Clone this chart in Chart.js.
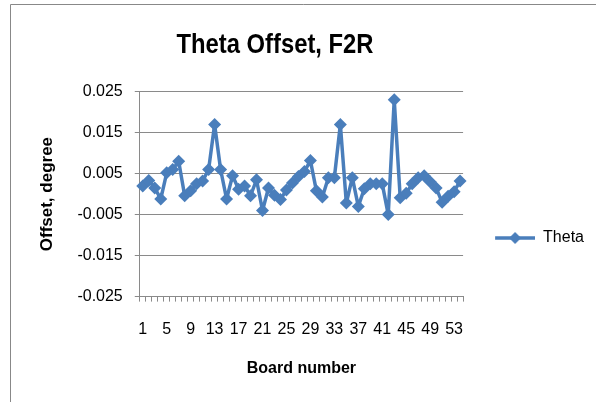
<!DOCTYPE html>
<html><head><meta charset="utf-8">
<script src="https://cdn.jsdelivr.net/npm/chart.js@4.4.1/dist/chart.umd.min.js"></script>
<style>html,body{margin:0;padding:0;background:#fff}#wrap{width:596px;height:402px;position:relative}canvas{display:block}</style>
</head><body><div id="wrap"><canvas id="c" width="596" height="402"></canvas></div>
<script>
const boards = [1,2,3,4,5,6,7,8,9,10,11,12,13,14,15,16,17,18,19,20,21,22,23,24,25,26,27,
  28,29,30,31,32,33,34,35,36,37,38,39,40,41,42,43,44,45,46,47,48,49,50,51,52,53,54];
const theta = [0.002,0.0033,0.0015,-0.0012,0.0052,0.006,0.008,-0.0004,0.0008,0.0025,
  0.0032,0.006,0.017,0.006,-0.0012,0.0045,0.0012,0.002,-0.0004,0.0035,
  -0.004,0.0015,-0.0003,-0.0013,0.001,0.0027,0.0043,0.0055,0.0082,0.0008,
  -0.0007,0.004,0.004,0.017,-0.0022,0.004,-0.003,0.0013,0.0025,0.0025,
  0.0025,-0.005,0.023,-0.0009,0.0002,0.0025,0.004,0.0045,0.003,0.0015,
  -0.002,-0.0005,0.0006,0.0032];
const yMin = -0.025, yMax = 0.025, yStep = 0.01;
const labelEvery = 4;

const blue = '#4a7ebb';
const grey = '#8a8a8a';

// legend icon: line with a diamond
const icon = document.createElement('canvas');
icon.width = 62; icon.height = 14;
(function(){
  const g = icon.getContext('2d');
  g.strokeStyle = blue; g.lineWidth = 3.5;
  g.beginPath(); g.moveTo(22, 7); g.lineTo(62, 7); g.stroke();
  g.fillStyle = blue;
  g.beginPath(); g.moveTo(42, 1); g.lineTo(48, 7); g.lineTo(42, 13); g.lineTo(36, 7); g.closePath(); g.fill();
})();

const frame = {
  id: 'frame',
  afterLayout(chart) {
    // legend sits a little below the middle, title a little left of centre
    const l = chart.legend;
    const d = 238 - (l.top + l.bottom) / 2;
    l.top += d; l.bottom += d;
    const t = chart.titleBlock;
    if (!t._squeezed) {
      const orig = t.draw.bind(t);
      t.draw = function () {
        const ctx = chart.ctx;
        const c = (t.left + t.right) / 2;
        ctx.save();
        ctx.translate(275, 0); ctx.scale(0.85, 1); ctx.translate(-c, 0);
        orig();
        ctx.restore();
      };
      t._squeezed = true;
    }
  },
  afterDraw(chart) {
    const ctx = chart.ctx;
    ctx.save();
    ctx.strokeStyle = '#888';
    ctx.lineWidth = 1;
    ctx.beginPath();
    ctx.moveTo(10.5, 402); ctx.lineTo(10.5, 4.5); ctx.lineTo(596, 4.5);
    ctx.stroke();
    ctx.restore();
  }
};

new Chart(document.getElementById('c'), {
  type: 'line',
  data: {
    labels: boards,
    datasets: [{
      label: 'Theta',
      data: theta,
      borderColor: blue,
      backgroundColor: blue,
      borderWidth: 3.5,
      borderJoinStyle: 'round',
      borderCapStyle: 'round',
      pointStyle: 'rectRot',
      pointRadius: 6.5,
      pointBorderWidth: 0,
      pointBackgroundColor: blue,
      tension: 0,
      fill: false
    }]
  },
  options: {
    responsive: false,
    animation: false,
    devicePixelRatio: 1,
    layout: { padding: { left: 20, right: 2, top: 12, bottom: 20 } },
    plugins: {
      title: {
        display: true,
        text: 'Theta Offset, F2R',
        color: '#000',
        font: { family: '"Liberation Sans", Arial, sans-serif', size: 28, weight: 'bold' },
        padding: { top: 16, bottom: 30 }
      },
      legend: {
        position: 'right',
        labels: {
          usePointStyle: true,
          pointStyle: icon,
          pointStyleWidth: 62,
          boxHeight: 14,
          padding: 10,
          color: '#000',
          font: { family: '"Liberation Sans", Arial, sans-serif', size: 16 }
        }
      },
      tooltip: { enabled: false }
    },
    scales: {
      x: {
        type: 'category',
        offset: true,
        grid: { display: true, drawOnChartArea: false, offset: true, tickLength: 5, color: grey },
        border: { display: true, color: grey, width: 1 },
        ticks: {
          autoSkip: false, maxRotation: 0, minRotation: 0, padding: 18,
          color: '#000',
          font: { family: '"Liberation Sans", Arial, sans-serif', size: 16 },
          callback: (v, i) => (i % labelEvery === 0 ? String(boards[i]) : '')
        },
        title: {
          display: true, text: 'Board number', color: '#000',
          font: { family: '"Liberation Sans", Arial, sans-serif', size: 16, weight: 'bold' },
          padding: { top: 2, bottom: 4 }
        }
      },
      y: {
        min: yMin, max: yMax,
        grid: { color: grey, tickLength: 5, drawTicks: true },
        border: { display: true, color: grey, width: 1 },
        ticks: {
          stepSize: yStep, padding: 12, color: '#000',
          font: { family: '"Liberation Sans", Arial, sans-serif', size: 16 },
          callback: v => Number(v).toFixed(3)
        },
        title: {
          display: true, text: 'Offset, degree', color: '#000',
          font: { family: '"Liberation Sans", Arial, sans-serif', size: 17, weight: 'bold' },
          padding: { top: 17, bottom: 8 }
        }
      }
    }
  },
  plugins: [frame]
});
</script>
</body></html>
